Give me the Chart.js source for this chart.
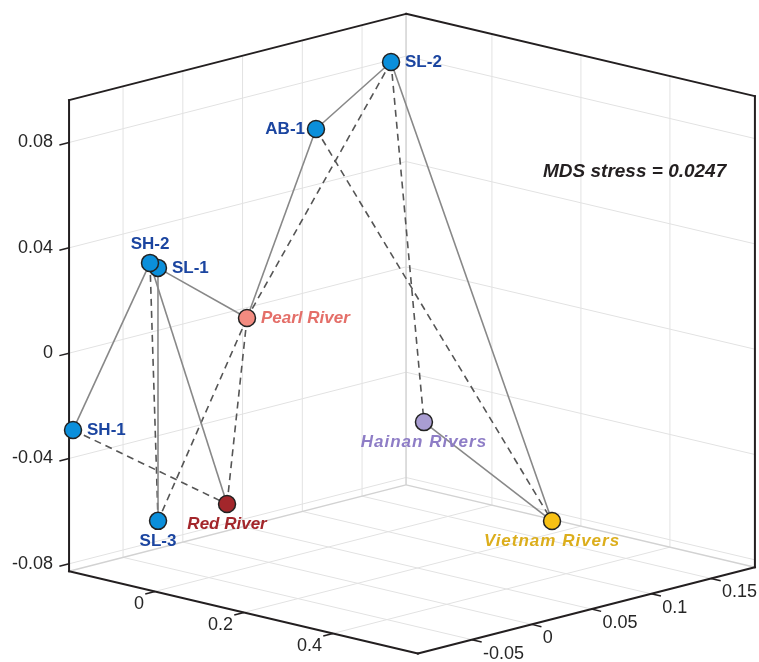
<!DOCTYPE html>
<html>
<head>
<meta charset="utf-8">
<script src="https://cdn.jsdelivr.net/npm/chart.js@4.4.1/dist/chart.umd.min.js"></script>
<style>
  html, body { margin: 0; padding: 0; background: #fff; }
</style>
</head>
<body>
<canvas id="mds" width="759" height="662"></canvas>
<script>
// MDS configuration : 3 dimensions par site
const names = ['SH-1', 'SL-1', 'SH-2', 'SL-3', 'AB-1', 'SL-2', 'Pearl River', 'Red River', 'Hainan Rivers', 'Vietnam Rivers'];
const dim1 = [-0.19, -0.03, -0.05, 0, 0.2, -0.1, 0.1, 0.1, 0.3, 0.5];
const dim2 = [-0.093, -0.0815, -0.0807, -0.0926, -0.0349, 0.1396, -0.0554, -0.0721, 0.0182, 0.0509];
const dim3 = [-0.0293, 0.0373, 0.0383, -0.0563, 0.0938, 0.087, 0.0204, -0.0483, -0.0197, -0.0531];

// liens entre sites
const solidLinks = [
  ['SL-2', 'AB-1'], ['AB-1', 'Pearl River'], ['SL-1', 'Pearl River'], ['SH-2', 'SH-1'],
  ['SL-1', 'SL-3'], ['SH-2', 'Red River'], ['SL-2', 'Vietnam Rivers'], ['Hainan Rivers', 'Vietnam Rivers']
];
const dashedLinks = [
  ['SL-2', 'Pearl River'], ['Pearl River', 'SL-3'], ['Pearl River', 'Red River'], ['SH-2', 'SL-3'],
  ['SH-1', 'Red River'], ['AB-1', 'Vietnam Rivers'], ['SL-2', 'Hainan Rivers']
];

// axes
const xLim = [-0.193, 0.591];
const yLim = [-0.0952, 0.1868];
const zLim = [-0.0828, 0.0961];
const xTicks = [0, 0.2, 0.4];
const yTicks = [-0.05, 0, 0.05, 0.1, 0.15];
const zTicks = [-0.08, -0.04, 0, 0.04, 0.08];
const stressText = 'MDS stress = 0.0247';

// styles
const blue = '#0b8fdb';
const blueText = '#1b45a0';
const pointFill = [blue, blue, blue, blue, blue, blue, '#f28b80', '#a3262b', '#a99dd2', '#f8c114'];
const labelColor = [blueText, blueText, blueText, blueText, blueText, blueText, '#e46f69', '#a3262b', '#8e7dc6', '#dcae1c'];
const labelItalic = [false, false, false, false, false, false, true, true, true, true];
const labelSpacing = [0, 0, 0, 0, 0, 0, 0, 0, 1, 1];
const labelSide = ['right', 'right', 'above', 'below', 'left', 'right', 'right', 'below', 'below', 'below'];
const FONT = '"Liberation Sans", Arial, sans-serif';

// projection orthographique (vue 3D)
const view = { ox: 268.7, oy: 344.3, ex: [445, 105], ey: [1195, -306], ez: [0, -2633] };
function project(x, y, z) {
  return {
    x: view.ox + view.ex[0] * x + view.ey[0] * y + view.ez[0] * z,
    y: view.oy + view.ex[1] * x + view.ey[1] * y + view.ez[1] * z
  };
}

const pts = names.map((n, i) => project(dim1[i], dim2[i], dim3[i]));
const idx = n => names.indexOf(n);

function linkDataset(link, dashed) {
  return {
    data: [pts[idx(link[0])], pts[idx(link[1])]],
    showLine: true,
    borderColor: dashed ? '#555555' : '#888888',
    borderWidth: 1.6,
    borderDash: dashed ? [7, 5] : [],
    pointRadius: 0,
    clip: false,
    order: 1
  };
}

const datasets = [{
  data: pts,
  pointRadius: 8.5,
  pointBorderWidth: 1.5,
  pointBorderColor: '#222222',
  pointBackgroundColor: pointFill,
  showLine: false,
  clip: false,
  order: 0
}];
solidLinks.forEach(l => datasets.push(linkDataset(l, false)));
dashedLinks.forEach(l => datasets.push(linkDataset(l, true)));

// boite 3D, grille, graduations et étiquettes
const box3d = {
  id: 'box3d',
  beforeDatasetsDraw(chart) {
    const ctx = chart.ctx;
    const P = (x, y, z) => {
      const p = project(x, y, z);
      return [chart.scales.x.getPixelForValue(p.x), chart.scales.y.getPixelForValue(p.y)];
    };
    const seg = (a, b) => { ctx.beginPath(); ctx.moveTo(a[0], a[1]); ctx.lineTo(b[0], b[1]); ctx.stroke(); };
    const [x0, x1] = xLim, [y0, y1] = yLim, [z0, z1] = zLim;

    ctx.save();
    ctx.strokeStyle = '#e2e2e2';
    ctx.lineWidth = 1;
    yTicks.forEach(t => { seg(P(x0, t, z0), P(x0, t, z1)); seg(P(x0, t, z0), P(x1, t, z0)); });
    xTicks.forEach(t => { seg(P(t, y1, z0), P(t, y1, z1)); seg(P(t, y0, z0), P(t, y1, z0)); });
    zTicks.forEach(t => { seg(P(x0, y0, t), P(x0, y1, t)); seg(P(x0, y1, t), P(x1, y1, t)); });

    ctx.strokeStyle = '#d2d2d2';
    ctx.lineWidth = 1.5;
    seg(P(x0, y1, z0), P(x0, y1, z1));
    seg(P(x0, y0, z0), P(x0, y1, z0));
    seg(P(x0, y1, z0), P(x1, y1, z0));

    ctx.strokeStyle = '#231f20';
    ctx.lineWidth = 2;
    ctx.lineCap = 'square';
    seg(P(x0, y0, z0), P(x0, y0, z1));
    seg(P(x0, y0, z1), P(x0, y1, z1));
    seg(P(x0, y1, z1), P(x1, y1, z1));
    seg(P(x1, y1, z1), P(x1, y1, z0));
    seg(P(x0, y0, z0), P(x1, y0, z0));
    seg(P(x1, y0, z0), P(x1, y1, z0));

    // direction des graduations
    const o = P(0, 0, 0), my = P(0, -1, 0), px = P(1, 0, 0);
    const unit = (a) => { const d = Math.hypot(a[0] - o[0], a[1] - o[1]); return [(a[0] - o[0]) / d, (a[1] - o[1]) / d]; };
    const dMy = unit(my), dPx = unit(px);
    const L = 10;
    ctx.lineWidth = 1.5;
    ctx.lineCap = 'butt';
    ctx.fillStyle = '#262626';
    ctx.font = '18px ' + FONT;
    ctx.textBaseline = 'middle';

    zTicks.forEach(t => {
      const p = P(x0, y0, t);
      seg(p, [p[0] + dMy[0] * L, p[1] + dMy[1] * L]);
      ctx.textAlign = 'right';
      ctx.fillText(String(t), p[0] - 16, p[1]);
    });
    xTicks.forEach(t => {
      const p = P(t, y0, z0);
      seg(p, [p[0] + dMy[0] * L, p[1] + dMy[1] * L]);
      ctx.textAlign = 'right';
      ctx.fillText(String(t), p[0] - 11, p[1] + 13);
    });
    yTicks.forEach(t => {
      const p = P(x1, t, z0);
      seg(p, [p[0] + dPx[0] * L, p[1] + dPx[1] * L]);
      ctx.textAlign = 'left';
      ctx.fillText(String(t), p[0] + 11, p[1] + 14);
    });
    ctx.restore();
  },
  afterDatasetsDraw(chart) {
    const ctx = chart.ctx;
    ctx.save();
    ctx.textBaseline = 'middle';
    names.forEach((n, i) => {
      const px = chart.scales.x.getPixelForValue(pts[i].x);
      const py = chart.scales.y.getPixelForValue(pts[i].y);
      ctx.font = (labelItalic[i] ? 'italic ' : '') + 'bold 17px ' + FONT;
      ctx.letterSpacing = labelSpacing[i] + 'px';
      ctx.fillStyle = labelColor[i];
      let tx = px, ty = py;
      if (labelSide[i] === 'right') { ctx.textAlign = 'left'; tx = px + 14; }
      else if (labelSide[i] === 'left') { ctx.textAlign = 'right'; tx = px - 11; }
      else if (labelSide[i] === 'above') { ctx.textAlign = 'center'; ty = py - 19; }
      else { ctx.textAlign = 'center'; ty = py + 20; }
      ctx.fillText(n, tx, ty);
    });
    ctx.letterSpacing = '0px';
    ctx.font = 'italic bold 19px ' + FONT;
    ctx.fillStyle = '#231f20';
    ctx.textAlign = 'left';
    ctx.fillText(stressText, chart.chartArea.left + 543, chart.chartArea.top + 172);
    ctx.restore();
  }
};

new Chart(document.getElementById('mds'), {
  type: 'scatter',
  data: { datasets: datasets },
  options: {
    responsive: false,
    devicePixelRatio: 1,
    animation: false,
    layout: { padding: 0, autoPadding: false },
    plugins: { legend: { display: false }, tooltip: { enabled: false } },
    scales: {
      x: { type: 'linear', min: 0, max: 759, display: false },
      y: { type: 'linear', min: 0, max: 662, reverse: true, display: false }
    }
  },
  plugins: [box3d]
});
</script>
</body>
</html>
